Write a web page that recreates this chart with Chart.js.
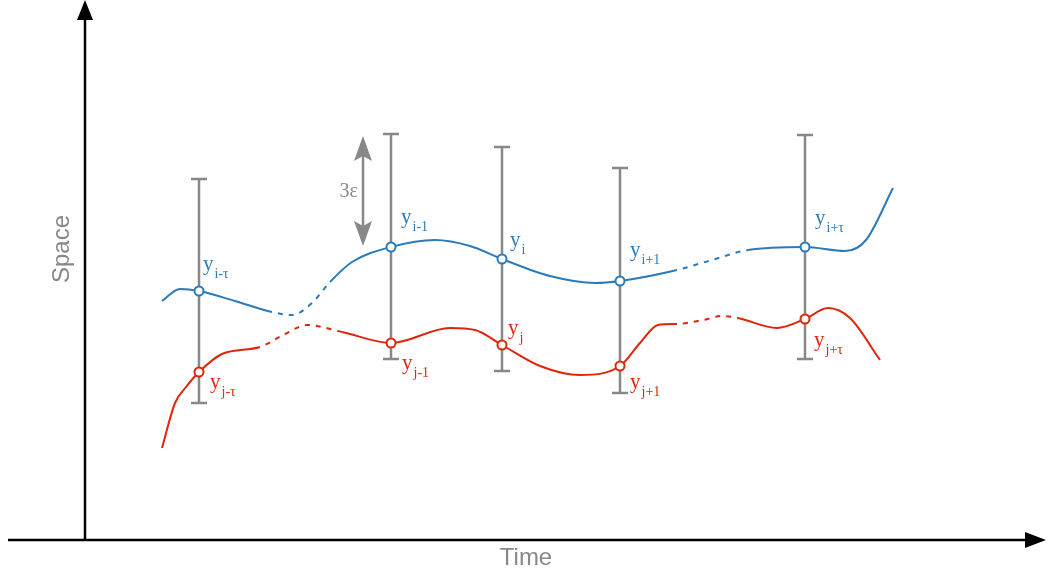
<!DOCTYPE html>
<html>
<head>
<meta charset="utf-8">
<script src="https://cdn.jsdelivr.net/npm/chart.js@4"></script>
<style>
  html, body { margin: 0; padding: 0; background: #fff; }
  #wrap { width: 1049px; height: 575px; }
</style>
</head>
<body>
<div id="wrap"><canvas id="chart" width="1049" height="575"></canvas></div>
<script>
// series i (blue) and j (red), time vs space
const blueTime  = [77, 95, 114, 150, 187, 207, 227, 245, 267, 306, 350, 385, 417, 465, 510, 535, 592, 627, 663, 720, 760, 781, 808];
const blueSpace = [239, 251, 249, 239, 228, 225, 237, 258, 278, 293, 300, 294, 281, 264, 257, 259, 270, 280, 290, 293, 289, 300, 352];
const blueDashed = [4, 5, 6, 16, 17]; // segments drawn dotted

const redTime  = [77, 90, 101, 114, 137, 175, 200, 222, 257, 306, 365, 390, 417, 455, 495, 535, 555, 573, 592, 618, 637, 653, 692, 720, 743, 765, 795];
const redSpace = [92, 137, 153, 168, 186, 193, 206, 215, 208, 197, 212, 210, 195, 174, 165, 174, 197, 215, 216, 220, 224, 222, 212, 221, 232, 222, 180];
const redDashed = [5, 6, 7, 18, 19, 20];

// error bars (±3ε) at the sampled times
const barTime = [114, 306, 417, 535, 720];
const barHigh = [361, 406, 393, 372, 405];
const barLow  = [137, 181, 169, 147, 181];

const blueSubs = ['i-τ', 'i-1', 'i', 'i+1', 'i+τ'];
const redSubs  = ['j-τ', 'j-1', 'j', 'j+1', 'j+τ'];

// 3ε span arrow: time, from, to
const epsArrow = [278, 294, 404];

const BLUE = '#2b7bba';
const RED = '#e0250a';
const GRAY = '#888888';

function seriesDataset(times, values, dashed, color) {
  return {
    data: times.map((t, i) => ({ x: t, y: values[i] })),
    borderColor: color,
    borderWidth: 2,
    cubicInterpolationMode: 'monotone',
    pointRadius: ctx => barTime.includes(times[ctx.dataIndex]) ? 4.5 : 0,
    pointHoverRadius: ctx => barTime.includes(times[ctx.dataIndex]) ? 4.5 : 0,
    pointBackgroundColor: '#fff',
    pointBorderColor: color,
    pointBorderWidth: 2,
    segment: {
      borderDash: ctx => dashed.includes(ctx.p0DataIndex) ? [5, 6] : undefined,
      borderDashOffset: ctx => dashed.includes(ctx.p0DataIndex) ? 5 : undefined
    }
  };
}

function drawLabel(ctx, x, y, sub, color) {
  ctx.fillStyle = color;
  ctx.textAlign = 'left';
  ctx.textBaseline = 'alphabetic';
  ctx.font = '21px "Liberation Serif", serif';
  ctx.fillText('y', x, y);
  const w = ctx.measureText('y').width;
  ctx.font = '14px "Liberation Serif", serif';
  ctx.fillText(sub, x + w + 1, y + 8);
}

const sketchPlugin = {
  id: 'sketch',
  beforeDatasetsDraw(chart) {
    const { ctx, scales: { x, y } } = chart;
    ctx.save();
    ctx.strokeStyle = GRAY;
    ctx.lineWidth = 2.5;
    barTime.forEach((t, i) => {
      const px = x.getPixelForValue(t);
      const top = y.getPixelForValue(barHigh[i]);
      const bot = y.getPixelForValue(barLow[i]);
      ctx.beginPath();
      ctx.moveTo(px, top); ctx.lineTo(px, bot);
      ctx.moveTo(px - 8, top); ctx.lineTo(px + 8, top);
      ctx.moveTo(px - 8, bot); ctx.lineTo(px + 8, bot);
      ctx.stroke();
    });

    // double arrow for 3ε
    const ax = x.getPixelForValue(epsArrow[0]);
    const aBot = y.getPixelForValue(epsArrow[1]);
    const aTop = y.getPixelForValue(epsArrow[2]);
    ctx.beginPath();
    ctx.moveTo(ax, aTop + 20); ctx.lineTo(ax, aBot - 20);
    ctx.stroke();
    ctx.fillStyle = GRAY;
    ctx.beginPath();
    ctx.moveTo(ax, aTop); ctx.lineTo(ax - 9, aTop + 25); ctx.lineTo(ax, aTop + 20); ctx.lineTo(ax + 9, aTop + 25);
    ctx.closePath(); ctx.fill();
    ctx.beginPath();
    ctx.moveTo(ax, aBot); ctx.lineTo(ax - 9, aBot - 25); ctx.lineTo(ax, aBot - 20); ctx.lineTo(ax + 9, aBot - 25);
    ctx.closePath(); ctx.fill();
    ctx.font = '20px "Liberation Serif", serif';
    ctx.textAlign = 'right';
    ctx.fillText('3ε', ax - 5, (aTop + aBot) / 2 + 6);
    ctx.restore();
  },
  afterDraw(chart) {
    const { ctx, chartArea: area, scales: { x, y } } = chart;
    const x0 = x.getPixelForValue(0);
    const y0 = y.getPixelForValue(0);
    ctx.save();

    // axes with arrow heads
    ctx.strokeStyle = '#000';
    ctx.fillStyle = '#000';
    ctx.lineWidth = 2.5;
    ctx.beginPath();
    ctx.moveTo(x0, y0); ctx.lineTo(x0, area.top + 18);
    ctx.moveTo(area.left + 8, y0); ctx.lineTo(area.right - 22, y0);
    ctx.stroke();
    ctx.beginPath();
    ctx.moveTo(x0, area.top); ctx.lineTo(x0 - 8, area.top + 20); ctx.lineTo(x0 + 8, area.top + 20);
    ctx.closePath(); ctx.fill();
    ctx.beginPath();
    ctx.moveTo(area.right - 3, y0); ctx.lineTo(area.right - 24, y0 - 8); ctx.lineTo(area.right - 24, y0 + 8);
    ctx.closePath(); ctx.fill();

    // axis titles
    ctx.fillStyle = GRAY;
    ctx.font = '24px "Liberation Sans", Arial, sans-serif';
    ctx.textAlign = 'center';
    ctx.textBaseline = 'alphabetic';
    ctx.fillText('Time', 526, y0 + 25);
    ctx.save();
    ctx.translate(x0 - 16, 249);
    ctx.rotate(-Math.PI / 2);
    ctx.fillText('Space', 0, 0);
    ctx.restore();

    // point labels
    const blueOff = [[4, -21], [10, -24], [8, -13], [10, -25], [10, -23]];
    const redOff = [[11, 16], [11, 26], [6, -11], [10, 22], [9, 27]];
    barTime.forEach((t, k) => {
      const px = x.getPixelForValue(t);
      const bi = blueTime.indexOf(t);
      const ri = redTime.indexOf(t);
      const by = y.getPixelForValue(blueSpace[bi]);
      const ry = y.getPixelForValue(redSpace[ri]);
      drawLabel(ctx, px + blueOff[k][0], by + blueOff[k][1], blueSubs[k], BLUE);
      drawLabel(ctx, px + redOff[k][0], ry + redOff[k][1], redSubs[k], RED);
    });
    ctx.restore();
  }
};

new Chart(document.getElementById('chart'), {
  type: 'line',
  data: {
    datasets: [
      seriesDataset(blueTime, blueSpace, blueDashed, BLUE),
      seriesDataset(redTime, redSpace, redDashed, RED)
    ]
  },
  options: {
    responsive: false,
    animation: false,
    events: [],
    layout: { padding: 0 },
    plugins: { legend: { display: false }, tooltip: { enabled: false } },
    scales: {
      x: { type: 'linear', min: -85, max: 964, display: false },
      y: { type: 'linear', min: -35, max: 540, display: false }
    }
  },
  plugins: [sketchPlugin]
});
</script>
</body>
</html>
